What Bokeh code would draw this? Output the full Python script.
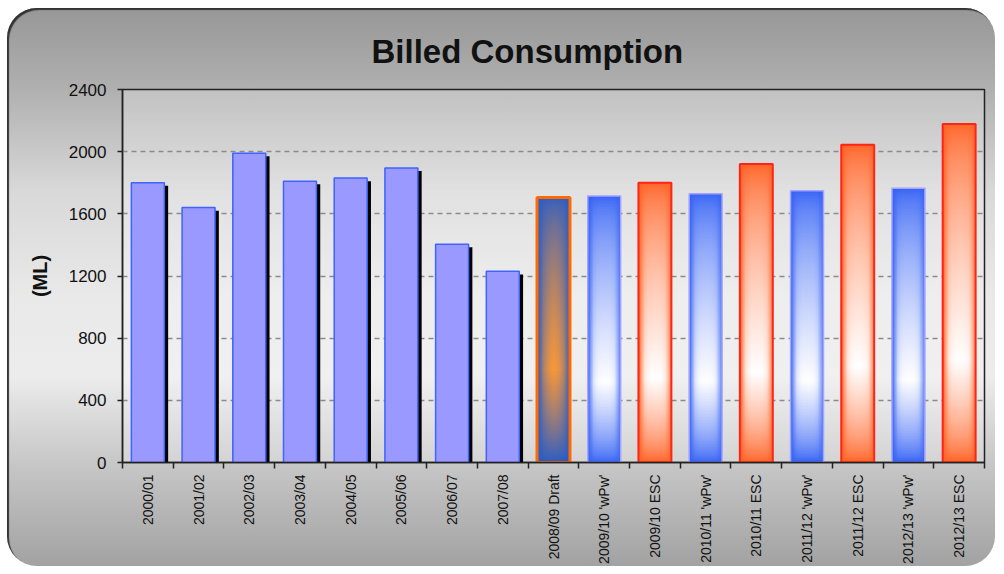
import numpy as np
from bokeh.plotting import figure
from bokeh.models import Range1d, FixedTicker, ColumnDataSource
from bokeh.embed import file_html
from bokeh.resources import INLINE

# ---------------- data ----------------
categories = ["2000/01", "2001/02", "2002/03", "2003/04", "2004/05", "2005/06",
              "2006/07", "2007/08", "2008/09 Draft", "2009/10 'wPw'", "2009/10 ESC",
              "2010/11 'wPw'", "2010/11 ESC", "2011/12 'wPw'", "2011/12 ESC",
              "2012/13 'wPw'", "2012/13 ESC"]
values = [1800, 1640, 1990, 1810, 1830, 1895, 1405, 1230, 1705, 1715, 1800,
          1730, 1920, 1748, 2045, 1765, 2178]
kinds = ["actual"] * 8 + ["draft", "wpw", "esc", "wpw", "esc", "wpw", "esc", "wpw", "esc"]
y_ticks = [0, 400, 800, 1200, 1600, 2000, 2400]

BAR_W = 0.65
xs = list(range(1, len(categories) + 1))

# ---------------- styles ----------------
STYLE = {
    "wpw":   dict(base=(0x35, 0x62, 0xf5), mid=(255, 255, 255), t0=0.3, up=0.65, dn=0.7, hp=4.0, line="#a4a4ff", lw=1.5),
    "esc":   dict(base=(0xff, 0x62, 0x24), mid=(255, 255, 255), t0=0.3, up=0.65, dn=0.7, hp=4.0, line="#ff2418", lw=2),
    "draft": dict(base=(0x28, 0x5c, 0xc8), mid=(0xf8, 0x98, 0x3a), t0=0.35, up=0.6, dn=0.8, hp=2.0, line="#ff6a00", lw=3),
}


def gradient_image(kind, nx=36, ny=180):
    st = STYLE[kind]
    t = np.linspace(0, 1, ny)[:, None]
    s = np.linspace(-1, 1, nx)[None, :]
    t0 = st["t0"]
    w = np.where(t > t0, ((1 - t) / (1 - t0)) ** st["up"], (t / t0) ** st["dn"])
    h = np.clip(1 - np.abs(s) ** st["hp"], 0, 1)
    mix = (w * h)[..., None]
    base = np.array(st["base"], dtype=float)[None, None, :]
    mid = np.array(st["mid"], dtype=float)[None, None, :]
    rgb = base * (1 - mix) + mid * mix
    img = np.empty((ny, nx), dtype=np.uint32)
    view = img.view(dtype=np.uint8).reshape((ny, nx, 4))
    view[..., 0] = rgb[..., 0].astype(np.uint8)
    view[..., 1] = rgb[..., 1].astype(np.uint8)
    view[..., 2] = rgb[..., 2].astype(np.uint8)
    view[..., 3] = 255
    return img


# ---------------- figure ----------------
p = figure(width=988, height=558, output_backend="svg", toolbar_location=None,
           x_range=Range1d(0.5, len(categories) + 0.5), y_range=Range1d(0, 2400),
           min_border_left=115, min_border_right=11, min_border_top=81, min_border_bottom=103)
p.margin = (8, 0, 0, 7)

p.styles = {
    "background": "linear-gradient(to bottom, #979797 0%, #afafaf 14%, #d9d9d9 33%, #e9e9e9 52%, #ececec 66%, #c6c6c6 82%, #a2a2a2 100%)",
    "border-radius": "30px",
    "box-shadow": "inset 2px 2px 1px #333333",
}
p.border_fill_color = None
p.background_fill_color = "#ffffff"
p.background_fill_alpha = 0.22
p.outline_line_color = "#222222"
p.outline_line_width = 1.5

# title
p.title.text = "Billed Consumption"
p.title.text_font = "Liberation Sans"
p.title.text_font_style = "bold"
p.title.text_font_size = "33px"
p.title.text_color = "#111111"
p.title.align = "left"
p.title.offset = 249
p.title.standoff = 40

# historic bars with shadow
act_idx = [i for i, k in enumerate(kinds) if k == "actual"]
act = ColumnDataSource(dict(
    x=[xs[i] for i in act_idx],
    xs=[xs[i] + 0.075 for i in act_idx],
    top=[values[i] for i in act_idx],
    stop=[values[i] - 20 for i in act_idx],
))
p.vbar(x="xs", top="stop", bottom=0, width=BAR_W, source=act, fill_color="#000000", line_color=None)
p.vbar(x="x", top="top", bottom=0, width=BAR_W, source=act,
       fill_color="#9999ff", line_color="#3f63ff", line_width=1.5)

# gradient bars
g_idx = [i for i, k in enumerate(kinds) if k != "actual"]
gsrc = ColumnDataSource(dict(
    image=[gradient_image(kinds[i]) for i in g_idx],
    x=[xs[i] - BAR_W / 2 for i in g_idx],
    y=[0] * len(g_idx),
    dw=[BAR_W] * len(g_idx),
    dh=[values[i] for i in g_idx],
))
p.image_rgba(image="image", x="x", y="y", dw="dw", dh="dh", source=gsrc)
osrc = ColumnDataSource(dict(
    x=[xs[i] for i in g_idx],
    top=[values[i] for i in g_idx],
    line=[STYLE[kinds[i]]["line"] for i in g_idx],
    lw=[STYLE[kinds[i]]["lw"] for i in g_idx],
))
p.vbar(x="x", top="top", bottom=0, width=BAR_W, source=osrc,
       fill_color=None, line_color="line", line_width="lw")

# axes
p.xgrid.visible = False
p.ygrid.ticker = FixedTicker(ticks=y_ticks)
p.ygrid.grid_line_color = "#8a8a8a"
p.ygrid.grid_line_dash = "5 4"
p.ygrid.grid_line_width = 1.5

xa = p.xaxis[0]
xa.ticker = FixedTicker(ticks=xs, minor_ticks=[x - 0.5 for x in xs] + [len(xs) + 0.5])
xa.major_label_overrides = {x: c for x, c in zip(xs, categories)}
xa.major_label_orientation = np.pi / 2
xa.major_tick_out = 0
xa.major_tick_in = 0
xa.minor_tick_out = 6
xa.minor_tick_in = 0
xa.minor_tick_line_color = "#222222"
xa.minor_tick_line_width = 1.5
xa.major_label_standoff = 6
xa.major_label_text_font = "Liberation Sans"
xa.major_label_text_font_size = "14px"
xa.major_label_text_color = "#111111"
xa.axis_line_color = "#222222"
xa.axis_line_width = 1.5

ya = p.yaxis[0]
ya.ticker = FixedTicker(ticks=y_ticks)
ya.minor_tick_line_color = None
ya.major_tick_out = 5
ya.major_tick_in = 0
ya.major_tick_line_color = "#222222"
ya.major_tick_line_width = 1.5
ya.major_label_standoff = 11
ya.major_label_text_font = "Liberation Sans"
ya.major_label_text_font_size = "17px"
ya.major_label_text_color = "#111111"
ya.axis_line_color = "#222222"
ya.axis_line_width = 1.5
ya.axis_label = "(ML)"
ya.axis_label_text_font = "Liberation Sans"
ya.axis_label_text_font_style = "bold"
ya.axis_label_text_font_size = "20px"
ya.axis_label_text_color = "#111111"
ya.axis_label_standoff = 15

open("out.html", "w").write(file_html(p, INLINE))
